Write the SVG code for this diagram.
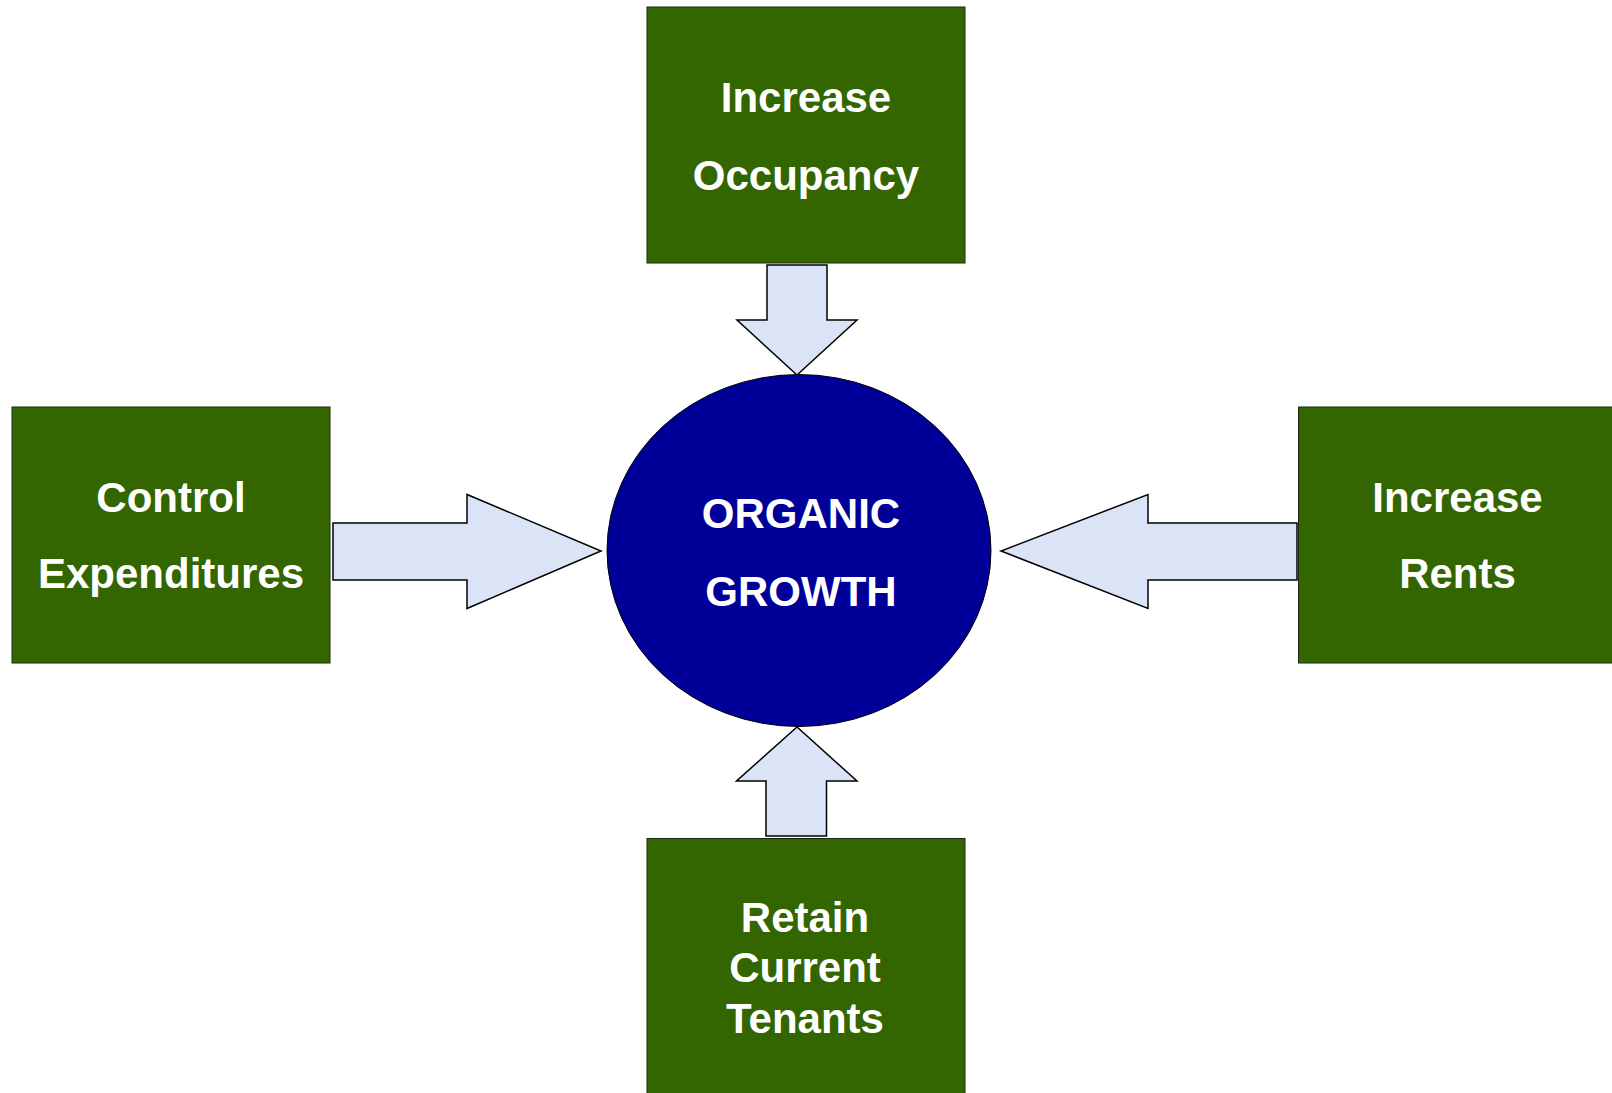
<svg xmlns="http://www.w3.org/2000/svg" width="1612" height="1093" viewBox="0 0 1612 1093">
  <style>
    .box { fill: #336600; stroke: #1a2a10; stroke-width: 1; }
    .hub { fill: #000099; stroke: #000000; stroke-width: 1; }
    .arrow { fill: #DAE4F6; stroke: #000000; stroke-width: 1.5; stroke-linejoin: miter; }
    .label { font-family: "Liberation Sans", Arial, sans-serif; font-weight: bold; font-size: 42px; fill: #ffffff; text-anchor: middle; }
  </style>
  <rect x="0" y="0" width="1612" height="1093" fill="#ffffff"/>

  <!-- block arrows pointing into the hub -->
  <g id="connectors">
    <polygon class="arrow" points="767,265 827,265 827,320 857,320 797,375 737,320 767,320"/>
    <polygon class="arrow" points="333,523 467,523 467,494.5 601,551 467,608.5 467,580 333,580"/>
    <polygon class="arrow" points="1297,523 1148,523 1148,494.5 1001,551 1148,608.5 1148,580 1297,580"/>
    <polygon class="arrow" points="766,836 826.5,836 826.5,781 857,781 797,727 736.5,781 766,781"/>
  </g>

  <g id="hub">
    <ellipse class="hub" cx="799" cy="550.5" rx="192" ry="176"/>
    <text class="label" x="801" y="528">ORGANIC</text>
    <text class="label" x="801" y="606">GROWTH</text>
  </g>

  <g id="node-occupancy">
    <rect class="box" x="647" y="7" width="318" height="256"/>
    <text class="label" x="806" y="112">Increase</text>
    <text class="label" x="806" y="190">Occupancy</text>
  </g>

  <g id="node-expenditures">
    <rect class="box" x="12" y="407" width="318" height="256"/>
    <text class="label" x="171" y="512">Control</text>
    <text class="label" x="171" y="588">Expenditures</text>
  </g>

  <g id="node-rents">
    <rect class="box" x="1298.5" y="407" width="318" height="256"/>
    <text class="label" x="1457.5" y="512">Increase</text>
    <text class="label" x="1457.5" y="588">Rents</text>
  </g>

  <g id="node-tenants">
    <rect class="box" x="647" y="838.5" width="318" height="256"/>
    <text class="label" x="805" y="932">Retain</text>
    <text class="label" x="805" y="982">Current</text>
    <text class="label" x="805" y="1033">Tenants</text>
  </g>
</svg>
